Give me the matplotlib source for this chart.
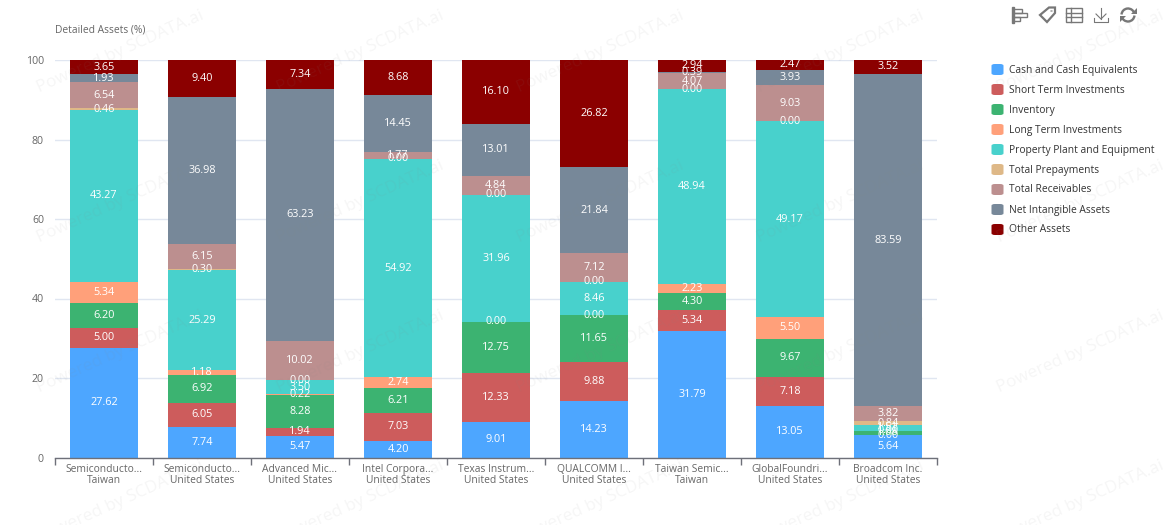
import matplotlib
matplotlib.use('Agg')
import matplotlib.pyplot as plt
from matplotlib.patches import FancyBboxPatch, Rectangle, Polygon, Arc, Circle
import numpy as np

W, H = 1173, 525

companies = ['Semiconducto...', 'Semiconducto...', 'Advanced Mic...', 'Intel Corpora...', 'Texas Instrum...',
             'QUALCOMM I...', 'Taiwan Semic...', 'GlobalFoundri...', 'Broadcom Inc.']
countries = ['Taiwan', 'United States', 'United States', 'United States', 'United States',
             'United States', 'Taiwan', 'United States', 'United States']

series_names = ['Cash and Cash Equivalents', 'Short Term Investments', 'Inventory', 'Long Term Investments',
                'Property Plant and Equipment', 'Total Prepayments', 'Total Receivables',
                'Net Intangible Assets', 'Other Assets']
colors = ['#4da6ff', '#cd5c5c', '#3cb371', '#ffa07a', '#48d1cc', '#deb887', '#bc8f8f', '#778899', '#8b0000']

cash = [27.62, 7.74, 5.47, 4.20, 9.01, 14.23, 31.79, 13.05, 5.64]
short_term = [5.00, 6.05, 1.94, 7.03, 12.33, 9.88, 5.34, 7.18, 0.00]
inventory = [6.20, 6.92, 8.28, 6.21, 12.75, 11.65, 4.30, 9.67, 1.08]
long_term = [5.34, 1.18, 0.22, 2.74, 0.00, 0.00, 2.23, 5.50, 0.00]
ppe = [43.27, 25.29, 3.50, 54.92, 31.96, 8.46, 48.94, 49.17, 1.51]
prepay = [0.46, 0.30, 0.00, 0.00, 0.00, 0.00, 0.00, 0.00, 0.84]
receivables = [6.54, 6.15, 10.02, 1.77, 4.84, 7.12, 4.07, 9.03, 3.82]
intangible = [1.93, 36.98, 63.23, 14.45, 13.01, 21.84, 0.39, 3.93, 83.59]
other = [3.65, 9.40, 7.34, 8.68, 16.10, 26.82, 2.94, 2.47, 3.52]
all_series = [cash, short_term, inventory, long_term, ppe, prepay, receivables, intangible, other]

plt.rcParams['font.family'] = ['Open Sans', 'DejaVu Sans']

fig = plt.figure(figsize=(W / 100, H / 100), dpi=100)
ax = fig.add_axes([55 / W, 1 - 457.5 / H, (937 - 55) / W, (457.5 - 60) / H])

x = np.arange(len(companies))
bottom = np.zeros(len(companies))
for vals, name, col in zip(all_series, series_names, colors):
    vals = np.array(vals)
    ax.bar(x, vals, 0.694, bottom=bottom, color=col, label=name, zorder=2)
    for xi, b, v in zip(x, bottom, vals):
        ax.text(xi, b + v / 2, f'{v:.2f}', ha='center', va='center', color='white', fontsize=7.8, zorder=3)
    bottom += vals

ax.set_xlim(-0.5, len(companies) - 0.5)
ax.set_ylim(0, 100)
ax.set_yticks(range(0, 101, 20))
ax.set_xticks(np.arange(len(companies) + 1) - 0.5)
ax.set_xticklabels([])
ax.tick_params(axis='y', length=0, labelsize=7.6, labelcolor='#666666', pad=8)
ax.tick_params(axis='x', length=5, color='#6e7079', width=1)
ax.grid(axis='y', color='#e0e6f1', lw=1, zorder=0)
ax.set_axisbelow(True)
for s in ['top', 'right', 'left']:
    ax.spines[s].set_visible(False)
ax.spines['bottom'].set_color('#6e7079')
ax.spines['bottom'].set_linewidth(1)

for xi, c, k in zip(x, companies, countries):
    ax.annotate(f'{c}\n{k}', (xi, 0), xytext=(0, -5), textcoords='offset points', ha='center', va='top',
                fontsize=7.4, color='#666666', linespacing=1.0)

fig.text(55 / W, 1 - 29.5 / H, 'Detailed Assets (%)', fontsize=7.4, color='#666666', va='center')

# legend drawn by hand so the rounded swatches sit where they do in the original
for i, (name, col) in enumerate(zip(series_names, colors)):
    y = 69.5 + i * 20
    fig.add_artist(FancyBboxPatch((991.5 / W, 1 - (y + 5.5) / H), 12 / W, 11 / H, transform=fig.transFigure,
                                  boxstyle='round,pad=0,rounding_size=0.003', fc=col, ec='none'))
    fig.text(1009 / W, 1 - (y + 0.5) / H, name, fontsize=7.35, color='#333333', va='center')

# watermark
for wx in range(120, 1100, 240):
    for wy in range(52, 510, 150):
        fig.text(wx / W, 1 - wy / H, 'Powered by SCDATA.ai', rotation=24, ha='center', va='center',
                 fontsize=12.3, color='#888888', alpha=0.08, zorder=10)

# toolbar icons
ic = '#777777'
def px(a, b):
    return (a / W, 1 - b / H)
tb = fig.transFigure
fig.add_artist(Rectangle(px(1012, 23), 1.5 / W, 16 / H, transform=tb, color=ic))
for top, wid in [(9, 9), (13, 14), (17, 7)]:
    fig.add_artist(Rectangle(px(1013, top + 4), wid / W, 4 / H, transform=tb, fill=False, ec=ic, lw=1))
fig.add_artist(Polygon([px(1040, 15), px(1049, 7.5), px(1055, 7.5), px(1055, 13), px(1047, 22)], transform=tb,
                       fill=False, ec=ic, lw=1.6))
fig.add_artist(Circle(px(1051.5, 11), 1.3 / W, transform=tb, fc=ic, ec='none'))
fig.add_artist(Rectangle(px(1066, 22), 16 / W, 14 / H, transform=tb, fill=False, ec=ic, lw=1))
for yy in [12.5, 17]:
    fig.add_artist(plt.Line2D([1066 / W, 1082 / W], [1 - yy / H] * 2, transform=tb, color=ic, lw=1))
fig.add_artist(plt.Line2D([1071 / W, 1071 / W], [1 - 8 / H, 1 - 22 / H], transform=tb, color=ic, lw=1))
fig.add_artist(plt.Line2D([1101 / W, 1101 / W], [1 - 8 / H, 1 - 19 / H], transform=tb, color=ic, lw=0.8))
fig.add_artist(plt.Line2D([1096 / W, 1101 / W, 1106 / W], [1 - 14 / H, 1 - 19 / H, 1 - 14 / H], transform=tb, color=ic, lw=0.8))
fig.add_artist(plt.Line2D([1094 / W, 1094 / W, 1108 / W, 1108 / W], [1 - 18 / H, 1 - 22 / H, 1 - 22 / H, 1 - 18 / H], transform=tb, color=ic, lw=0.8))
fig.add_artist(Arc(px(1128, 15), 13 / W, 13 / H, theta1=30, theta2=170, transform=tb, ec=ic, lw=1.7))
fig.add_artist(Arc(px(1128, 15), 13 / W, 13 / H, theta1=210, theta2=350, transform=tb, ec=ic, lw=1.7))
fig.add_artist(Polygon([px(1137, 8), px(1137, 14), px(1131, 14)], transform=tb, fc=ic, ec='none'))
fig.add_artist(Polygon([px(1120, 22), px(1120, 16), px(1126, 16)], transform=tb, fc=ic, ec='none'))

fig.savefig('out.png', dpi=100)
